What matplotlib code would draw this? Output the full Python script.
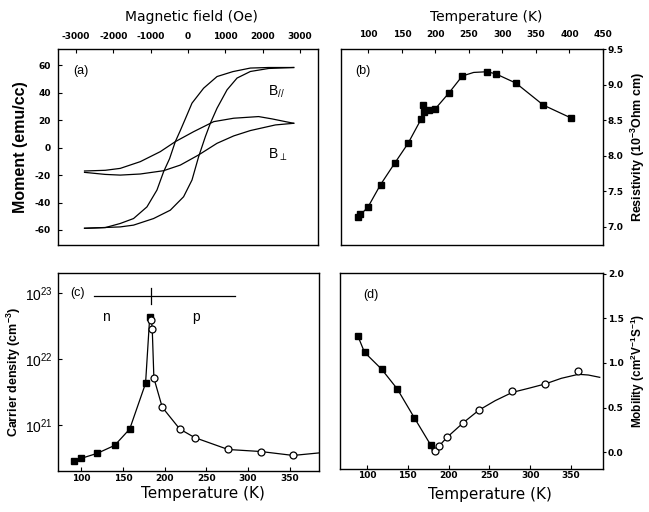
import matplotlib
matplotlib.use("Agg")
import matplotlib.pyplot as plt
from matplotlib.ticker import NullLocator, FormatStrFormatter

plt.rcParams['font.family'] = ['DejaVu Sans']
plt.rcParams['axes.unicode_minus'] = False
plt.rcParams['mathtext.default'] = 'regular'

# (a) hysteresis loops, field in Oe, moment in emu/cc
H_par_down = [2830, 2160, 1670, 1200, 777, 418, 107, -72, -206, -340, -493, -654, -831, -1099, -1458, -1814, -2215, -2770]
M_par_down = [58.5, 58.5, 58.1, 55.5, 51.9, 43.4, 32.5, 21.0, 12.5, 4.4, -8.0, -17.6, -30.9, -43.2, -51.7, -55.3, -58.3, -58.8]
H_par_up = [-2770, -1814, -1458, -922, -474, -118, 107, 284, 464, 598, 777, 1045, 1313, 1670, 2160, 2830]
M_par_up = [-58.8, -57.8, -56.5, -51.7, -45.6, -35.8, -23.6, -6.6, 8.0, 17.8, 28.8, 42.2, 50.8, 55.6, 57.8, 58.5]
H_perp_down = [2830, 2610, 2250, 1890, 1670, 1224, 688, 152, -340, -742, -1278, -1814, -2215, -2770]
M_perp_down = [17.8, 19.0, 21.0, 22.7, 22.3, 21.5, 19.0, 11.7, 4.4, -2.9, -10.2, -15.1, -16.5, -17.0]
H_perp_up = [-2770, -2215, -1814, -1278, -654, -206, 284, 777, 1224, 1670, 2340, 2830]
M_perp_up = [-18.0, -19.5, -20.0, -19.2, -16.8, -12.7, -5.3, 3.2, 8.6, 12.5, 16.6, 17.8]
field_ticks = [-3000, -2000, -1000, 0, 1000, 2000, 3000]
moment_ticks = [-60, -40, -20, 0, 20, 40, 60]

# (b) resistivity (1e-3 Ohm cm)
T_res = [85, 88, 99, 118, 139, 159, 179, 181, 183, 190, 199, 220, 240, 277, 290, 320, 361, 402]
R_res = [7.14, 7.17, 7.27, 7.59, 7.89, 8.17, 8.52, 8.71, 8.61, 8.64, 8.65, 8.88, 9.12, 9.18, 9.15, 9.02, 8.71, 8.53]
T_res_line = [85, 99, 118, 139, 159, 179, 190, 199, 220, 240, 257, 277, 290, 320, 361, 402]
R_res_line = [7.14, 7.27, 7.59, 7.89, 8.17, 8.52, 8.64, 8.65, 8.88, 9.12, 9.17, 9.18, 9.15, 9.02, 8.71, 8.53]
res_ticks = [7.0, 7.5, 8.0, 8.5, 9.0, 9.5]
temp_ticks_b = [100, 150, 200, 250, 300, 350, 400, 450]

# (c) carrier density (cm^-3)
T_n = [91, 100, 119, 140, 158, 177, 182]
N_n = [2.86e20, 3.14e20, 3.73e20, 4.93e20, 8.71e20, 4.27e21, 4.33e22]
T_p = [184, 185, 187, 197, 218, 236, 276, 315, 354]
N_p = [3.89e22, 2.88e22, 5.13e21, 1.86e21, 8.71e20, 6.46e20, 4.27e20, 3.98e20, 3.47e20]
T_N_line = [100, 119, 140, 158, 177, 182, 184, 185, 187, 197, 218, 236, 276, 315, 354, 386]
N_line = [3.14e20, 3.73e20, 4.93e20, 8.71e20, 4.27e21, 4.33e22, 3.89e22, 2.88e22, 5.13e21, 1.86e21,
          8.71e20, 6.46e20, 4.27e20, 3.98e20, 3.47e20, 3.8e20]
T_np_bar = [115, 284]
T_np_mark = 184
N_np_bar = 9.1e22

# (d) mobility (cm^2 V^-1 s^-1)
T_n_mu = [89, 97, 118, 137, 158, 178]
mu_n = [1.30, 1.12, 0.93, 0.71, 0.385, 0.08]
T_p_mu = [183, 188, 198, 218, 237, 278, 318, 359]
mu_p = [0.01, 0.07, 0.17, 0.33, 0.47, 0.69, 0.76, 0.91]
T_mu_line = [89, 97, 118, 137, 158, 178, 181, 188, 198, 218, 237, 257, 278, 298, 318, 338, 359, 371, 385]
mu_line = [1.30, 1.12, 0.93, 0.71, 0.385, 0.08, -0.015, 0.065, 0.165, 0.33, 0.47, 0.577, 0.67, 0.716,
           0.764, 0.828, 0.873, 0.865, 0.839]
mu_ticks = [0.0, 0.5, 1.0, 1.5, 2.0]
temp_ticks_cd = [100, 150, 200, 250, 300, 350]

arial = 'Liberation Sans'

W, Hpx = 649, 512
fig = plt.figure(figsize=(W / 100, Hpx / 100), dpi=100)
ax_a = fig.add_axes([58 / W, 1 - 245 / Hpx, 260 / W, 196 / Hpx])
ax_b = fig.add_axes([341 / W, 1 - 245 / Hpx, 262 / W, 196 / Hpx])
ax_c = fig.add_axes([58 / W, 1 - 471 / Hpx, 261 / W, 198 / Hpx])
ax_d = fig.add_axes([340 / W, 1 - 469 / Hpx, 263 / W, 196 / Hpx])

for ax in (ax_a, ax_b, ax_c, ax_d):
    for s in ax.spines.values():
        s.set_linewidth(1.0)
    ax.tick_params(which='both', width=0.8, length=3, labelsize=6.5)

lw = 0.9
sq = dict(marker='s', ms=4.8, mfc='black', mec='black', ls='none')
circ = dict(marker='o', ms=5, mfc='white', mec='black', mew=0.9, ls='none')

# ---- (a)
ax_a.plot(H_par_down, M_par_down, color='black', lw=lw)
ax_a.plot(H_par_up, M_par_up, color='black', lw=lw)
ax_a.plot(H_perp_down, M_perp_down, color='black', lw=lw)
ax_a.plot(H_perp_up, M_perp_up, color='black', lw=lw)
ax_a.set_xlim(-3480, 3480)
ax_a.set_ylim(-71, 72)
ax_a.xaxis.tick_top()
ax_a.xaxis.set_label_position('top')
ax_a.set_xticks(field_ticks)
ax_a.set_yticks(moment_ticks)
ax_a.tick_params(axis='both', direction='in', pad=5)
ax_a.tick_params(axis='x', pad=6)
ax_a.set_xlabel('Magnetic field (Oe)', fontsize=10)
ax_a.xaxis.set_label_coords(0.515, 1.163)
ax_a.xaxis.label.set_va('center')
ax_a.set_ylabel('Moment (emu/cc)', fontsize=11.5, fontweight='bold', family=arial)
ax_a.yaxis.set_label_coords(-0.146, 0.5)
ax_a.yaxis.label.set_va('center')
ax_a.text(0.058, 0.89, '(a)', transform=ax_a.transAxes, fontsize=9, va='center', family=arial)
ax_a.text(2150, 40.5, 'B$_{//}$', fontsize=10, va='center', family=arial)
ax_a.text(2150, -5.5, 'B$_{\\perp}$', fontsize=10, va='center', family=['Liberation Sans', 'DejaVu Sans'])

# ---- (b)
ax_b.plot(T_res_line, R_res_line, color='black', lw=lw)
ax_b.plot(T_res, R_res, **sq)
ax_b.set_xlim(59, 450)
ax_b.set_ylim(6.74, 9.5)
ax_b.xaxis.tick_top()
ax_b.xaxis.set_label_position('top')
ax_b.yaxis.tick_right()
ax_b.yaxis.set_label_position('right')
ax_b.set_xticks(temp_ticks_b)
ax_b.set_yticks(res_ticks)
ax_b.yaxis.set_major_formatter(FormatStrFormatter('%.1f'))
ax_b.tick_params(axis='x', direction='in', pad=7)
ax_b.tick_params(axis='y', direction='out', length=2, pad=1.5)
ax_b.set_xlabel('Temperature (K)', fontsize=10)
ax_b.xaxis.set_label_coords(0.553, 1.163)
ax_b.xaxis.label.set_va('center')
ax_b.set_ylabel('Resistivity (10$^{-3}$Ohm cm)', fontsize=9, fontweight='bold', rotation=90, family=arial)
ax_b.yaxis.set_label_coords(1.134, 0.5)
ax_b.yaxis.label.set_va('center')
ax_b.text(0.055, 0.89, '(b)', transform=ax_b.transAxes, fontsize=9, va='center', family=arial)

# ---- (c)
ax_c.plot(T_N_line, N_line, color='black', lw=lw)
ax_c.plot(T_n, N_n, **sq)
ax_c.plot(T_p, N_p, **circ)
ax_c.set_yscale('log')
ax_c.set_xlim(72, 385)
ax_c.set_ylim(10 ** 20.305, 10 ** 23.3)
ax_c.set_xticks(temp_ticks_cd)
ax_c.set_yticks([1e21, 1e22, 1e23])
ax_c.yaxis.set_minor_locator(NullLocator())
ax_c.tick_params(axis='both', direction='in')
ax_c.tick_params(axis='x', pad=2)
ax_c.tick_params(axis='y', labelsize=10, pad=4)
ax_c.plot(T_np_bar, [N_np_bar, N_np_bar], color='black', lw=lw)
ax_c.plot([T_np_mark, T_np_mark], [N_np_bar * 1.3, N_np_bar / 1.35], color='black', lw=lw)
ax_c.text(130, 4.3e22, 'n', fontsize=10, ha='center', va='center', family=arial)
ax_c.text(238, 4.3e22, 'p', fontsize=10, ha='center', va='center', family=arial)
ax_c.set_xlabel('Temperature (K)', fontsize=11)
ax_c.xaxis.set_label_coords(0.556, -0.116)
ax_c.xaxis.label.set_va('center')
ax_c.set_ylabel('Carrier density (cm$^{-3}$)', fontsize=9, fontweight='bold', family=arial)
ax_c.yaxis.set_label_coords(-0.17, 0.5)
ax_c.yaxis.label.set_va('center')
ax_c.text(0.046, 0.9, '(c)', transform=ax_c.transAxes, fontsize=9, va='center', family=arial)

# ---- (d)
ax_d.plot(T_mu_line, mu_line, color='black', lw=lw)
ax_d.plot(T_n_mu, mu_n, **sq)
ax_d.plot(T_p_mu, mu_p, **circ)
ax_d.set_xlim(67, 389)
ax_d.set_ylim(-0.19, 2.01)
ax_d.yaxis.tick_right()
ax_d.yaxis.set_label_position('right')
ax_d.set_xticks(temp_ticks_cd)
ax_d.set_yticks(mu_ticks)
ax_d.yaxis.set_major_formatter(FormatStrFormatter('%.1f'))
ax_d.tick_params(axis='x', direction='in', pad=1.5)
ax_d.tick_params(axis='y', direction='out', length=2, pad=1.5)
ax_d.set_xlabel('Temperature (K)', fontsize=11)
ax_d.xaxis.set_label_coords(0.57, -0.128)
ax_d.xaxis.label.set_va('center')
ax_d.set_ylabel('Mobility (cm$^2$V$^{-1}$S$^{-1}$)', fontsize=8.5, fontweight='bold', rotation=90, family=arial)
ax_d.yaxis.set_label_coords(1.133, 0.5)
ax_d.yaxis.label.set_va('center')
ax_d.text(0.088, 0.888, '(d)', transform=ax_d.transAxes, fontsize=9, va='center', family=arial)

# bold tick labels everywhere except the 10^n labels
for ax in (ax_a, ax_b, ax_c, ax_d):
    labs = ax.get_xticklabels() + ax.get_yticklabels()
    if ax is ax_c:
        labs = ax.get_xticklabels()
        for lab in ax.get_yticklabels():
            lab.set_family(arial)
    for lab in labs:
        lab.set_fontweight('bold')

fig.savefig('out.png', dpi=100)
